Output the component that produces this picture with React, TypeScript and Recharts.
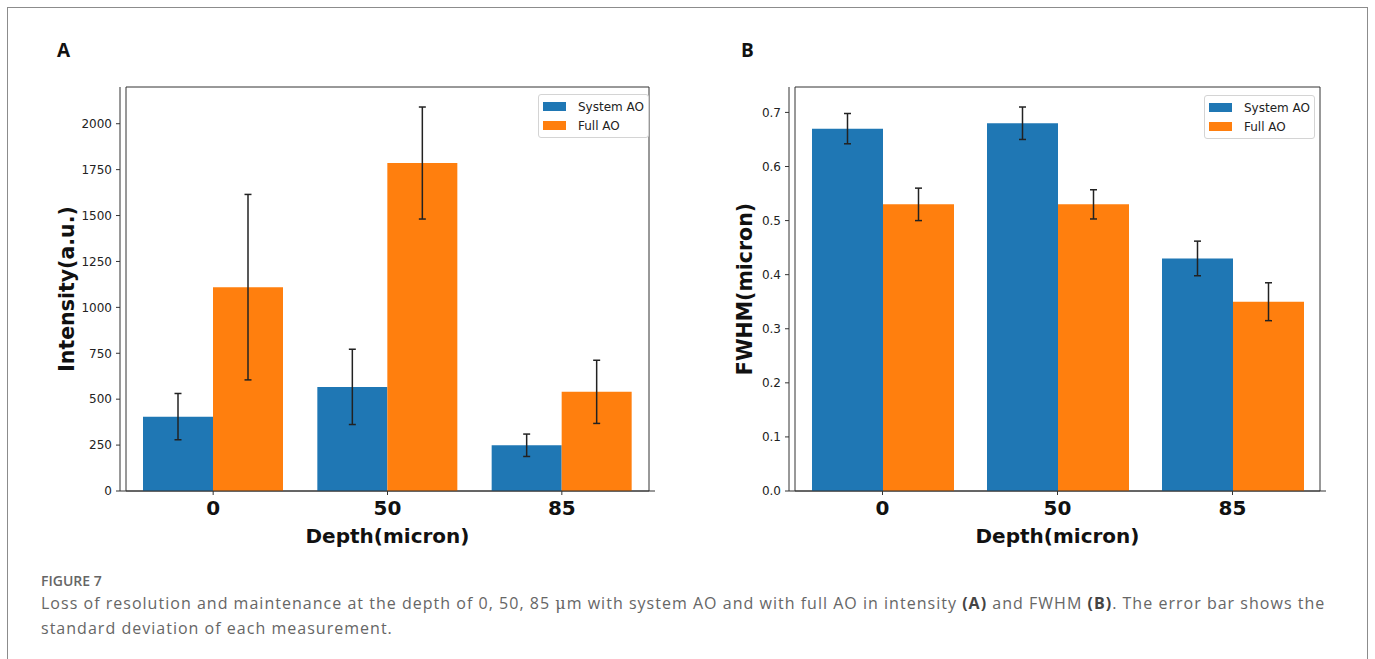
import { BarChart, Bar, XAxis, YAxis, ErrorBar, Legend, ReferenceArea } from 'recharts'

const depths = ['0', '50', '85']
const seriesNames = ['System AO', 'Full AO']

const intensitySystem = [405, 567, 249]
const intensitySystemErr = [126, 205, 61]
const intensityFull = [1110, 1786, 540]
const intensityFullErr = [505, 305, 172]
const intensityTicks = [0, 250, 500, 750, 1000, 1250, 1500, 1750, 2000]

const fwhmSystem = [0.67, 0.68, 0.43]
const fwhmSystemErr = [0.028, 0.03, 0.032]
const fwhmFull = [0.53, 0.53, 0.35]
const fwhmFullErr = [0.03, 0.027, 0.035]
const fwhmTicks = [0, 0.1, 0.2, 0.3, 0.4, 0.5, 0.6, 0.7]

const BLUE = '#1f77b4'
const ORANGE = '#ff7f0e'
const INK = '#333'
const MPL_FONT = 'DejaVu Sans, Verdana, sans-serif'

const intensityData = depths.map((depth, i) => ({
  depth,
  system: intensitySystem[i],
  systemErr: intensitySystemErr[i],
  full: intensityFull[i],
  fullErr: intensityFullErr[i],
}))

const fwhmData = depths.map((depth, i) => ({
  depth,
  system: fwhmSystem[i],
  systemErr: fwhmSystemErr[i],
  full: fwhmFull[i],
  fullErr: fwhmFullErr[i],
}))

// legend keeps plotting order (recharts sorts by name otherwise)
const LegendBox = ({ payload }: any) => {
  const items = [...(payload || [])].sort(
    (a: any, b: any) => seriesNames.indexOf(a.value) - seriesNames.indexOf(b.value),
  )
  return (
    <div
      style={{
        width: 111,
        height: 44,
        boxSizing: 'border-box',
        border: '1px solid #d4d4d4',
        borderRadius: 3,
        background: 'rgba(255,255,255,0.85)',
        padding: '2px 4px',
      }}
    >
      {items.map((p: any) => (
        <div key={p.value} style={{ display: 'flex', alignItems: 'center', height: 19 }}>
          <span style={{ width: 23, height: 9, background: p.color, marginRight: 12 }} />
          <span style={{ fontSize: 12, fontFamily: MPL_FONT, color: '#222' }}>{p.value}</span>
        </div>
      ))}
    </div>
  )
}

interface PanelProps {
  data: any[]
  width: number
  margin: { top: number; right: number; bottom: number; left: number }
  domain: [number, number]
  ticks: number[]
  format: (v: number) => string
  yLabel: string
  yLabelOffset: number
  legendPos: { top: number; left: number }
}

function Panel({ data, width, margin, domain, ticks, format, yLabel, yLabelOffset, legendPos }: PanelProps) {
  return (
    <BarChart
      width={width}
      height={560}
      data={data}
      margin={margin}
      barCategoryGap={17}
      barGap={0}
      style={{ fontFamily: MPL_FONT }}
    >
      <XAxis
        dataKey="depth"
        height={69}
        padding={{ left: 6, right: 6 }}
        stroke={INK}
        tickSize={4}
        tickMargin={6}
        tick={{ fontSize: 20, fontWeight: 700, fill: '#111', fontFamily: MPL_FONT }}
        label={{
          value: 'Depth(micron)',
          position: 'insideBottom',
          offset: 17,
          style: { fontSize: 20, fontWeight: 700, fill: '#111', fontFamily: MPL_FONT },
        }}
      />
      <YAxis
        domain={domain}
        ticks={ticks}
        tickFormatter={format}
        width={100}
        stroke={INK}
        tickSize={4}
        tickMargin={4}
        tick={{ fontSize: 12, fill: '#222', fontFamily: MPL_FONT }}
        label={{
          value: yLabel,
          angle: -90,
          position: 'insideLeft',
          offset: yLabelOffset,
          style: { textAnchor: 'middle', fontSize: 20.5, fontWeight: 700, fill: '#111', fontFamily: MPL_FONT },
        }}
      />
      {/* box around the plot, like matplotlib spines */}
      <ReferenceArea y1={domain[0]} y2={domain[1]} fill="none" stroke={INK} strokeWidth={1} ifOverflow="visible" />
      <Legend
        layout="vertical"
        align="center"
        verticalAlign="middle"
        content={LegendBox}
        wrapperStyle={{ top: legendPos.top, left: legendPos.left, width: 111, height: 44 }}
      />
      <Bar dataKey="system" name="System AO" fill={BLUE} isAnimationActive={false}>
        <ErrorBar dataKey="systemErr" width={3.5} strokeWidth={1.5} stroke="#222" direction="y" />
      </Bar>
      <Bar dataKey="full" name="Full AO" fill={ORANGE} isAnimationActive={false}>
        <ErrorBar dataKey="fullErr" width={3.5} strokeWidth={1.5} stroke="#222" direction="y" />
      </Bar>
    </BarChart>
  )
}

const captionFont = '"Open Sans", "Noto Sans", sans-serif'

export default function App() {
  return (
    <div style={{ position: 'absolute', left: 0, top: 0, width: 1375, height: 659, background: '#fff', overflow: 'hidden' }}>
      <div
        style={{
          position: 'absolute',
          left: 7,
          top: 7,
          width: 1359,
          height: 720,
          border: '1px solid #8c8c8c',
        }}
      />
      <div style={{ position: 'absolute', left: 57, top: 41, fontFamily: captionFont, fontWeight: 700, fontSize: 19, lineHeight: 1, color: '#111' }}>
        A
      </div>
      <div style={{ position: 'absolute', left: 741, top: 41, fontFamily: captionFont, fontWeight: 700, fontSize: 19, lineHeight: 1, color: '#111' }}>
        B
      </div>

      <div style={{ position: 'absolute', left: 0, top: 0 }}>
        <Panel
          data={intensityData}
          width={680}
          margin={{ top: 87, right: 25, bottom: 0, left: 20 }}
          domain={[0, 2200]}
          ticks={intensityTicks}
          format={(v) => String(v)}
          yLabel="Intensity(a.u.)"
          yLabelOffset={47}
          legendPos={{ top: 94, left: 538 }}
        />
      </div>
      <div style={{ position: 'absolute', left: 680, top: 0 }}>
        <Panel
          data={fwhmData}
          width={695}
          margin={{ top: 87, right: 49, bottom: 0, left: 9 }}
          domain={[0, 0.747]}
          ticks={fwhmTicks}
          format={(v) => v.toFixed(1)}
          yLabel="FWHM(micron)"
          yLabelOffset={56}
          legendPos={{ top: 95, left: 524 }}
        />
      </div>

      <div
        style={{
          position: 'absolute',
          left: 41,
          top: 574,
          fontFamily: captionFont,
          fontWeight: 600,
          fontSize: 14,
          lineHeight: 1,
          color: '#666',
        }}
      >
        FIGURE 7
      </div>
      <div
        style={{
          position: 'absolute',
          left: 41,
          top: 591,
          width: 1320,
          fontFamily: captionFont,
          fontWeight: 400,
          fontSize: 16,
          letterSpacing: 1.02,
          lineHeight: '24px',
          color: '#666',
          whiteSpace: 'nowrap',
        }}
      >
        Loss of resolution and maintenance at the depth of 0, 50, 85 <span style={{ fontFamily: 'DejaVu Serif, serif' }}>μ</span>m with system AO and with
        full AO in intensity <b style={{ fontWeight: 700, color: '#444' }}>(A)</b> and FWHM <b style={{ fontWeight: 700, color: '#444' }}>(B)</b>. The error bar shows the
        <br />
        standard deviation of each measurement.
      </div>
    </div>
  )
}
